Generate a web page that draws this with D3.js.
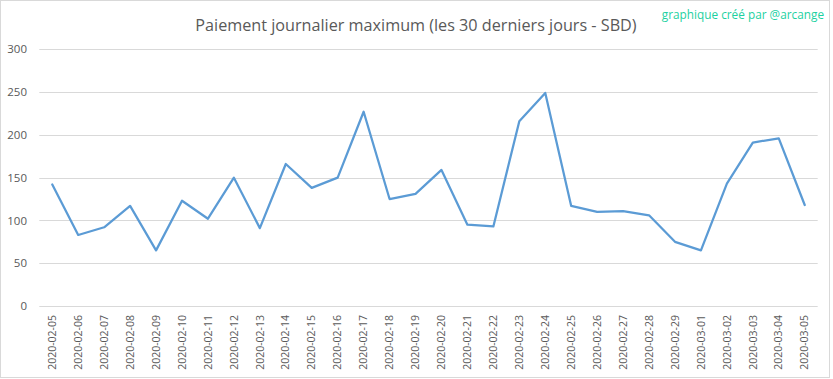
<!DOCTYPE html>
<html>
<head>
<meta charset="utf-8">
<script src="https://cdn.jsdelivr.net/npm/d3@7"></script>
<style>
html,body{margin:0;padding:0;background:#fff;}
svg{display:block;}
</style>
</head>
<body>
<svg id="chart" width="833" height="379"></svg>
<script>
const dates = ["2020-02-05","2020-02-06","2020-02-07","2020-02-08","2020-02-09","2020-02-10","2020-02-11","2020-02-12","2020-02-13","2020-02-14","2020-02-15","2020-02-16","2020-02-17","2020-02-18","2020-02-19","2020-02-20","2020-02-21","2020-02-22","2020-02-23","2020-02-24","2020-02-25","2020-02-26","2020-02-27","2020-02-28","2020-02-29","2020-03-01","2020-03-02","2020-03-03","2020-03-04","2020-03-05"];
const values = [142,83,92,117,65,123,102,150,91,166,138,150,227,125,131,159,95,93,216,249,117,110,111,106,75,65,143,191,196,118];
const yTicks = [0,50,100,150,200,250,300];
const titleText = "Paiement journalier maximum (les 30 derniers jours - SBD)";
const creditText = "graphique créé par @arcange";

(function(){
const svg = d3.select("#chart");
const mLeft = 39.3, mRight = 817.7, mTop = 49.3, mBottom = 306;

svg.append("rect").attr("x",0.5).attr("y",0.5).attr("width",829).attr("height",377)
  .attr("fill","#fff").attr("stroke","#D9D9D9").attr("stroke-width",1);

const x = d3.scaleBand().domain(dates).range([mLeft,mRight]);
const y = d3.scaleLinear().domain([0,300]).range([mBottom,mTop]);

const grid = svg.append("g");
grid.selectAll("line").data(yTicks).join("line")
  .attr("x1",mLeft).attr("x2",mRight)
  .attr("y1",d=>Math.round(y(d))+0.5).attr("y2",d=>Math.round(y(d))+0.5)
  .attr("stroke","#D9D9D9").attr("stroke-width",1);

const yAxis = d3.axisLeft(y).tickValues(yTicks).tickSize(0).tickPadding(0);
const gy = svg.append("g").attr("transform",`translate(27,0)`).call(yAxis);
gy.select(".domain").remove();
gy.selectAll("text").attr("font-family","'Open Sans', sans-serif").attr("font-size","11.5px").attr("fill","#595959");

const xAxis = d3.axisBottom(x).tickSize(0).tickPadding(0);
const gx = svg.append("g").attr("transform",`translate(0,${mBottom})`).call(xAxis);
gx.select(".domain").remove();
gx.selectAll("text")
  .attr("font-family","'Open Sans', sans-serif").attr("font-size","10.5px").attr("fill","#595959")
  .attr("text-anchor","end").attr("dy","0.35em")
  .attr("transform","translate(0,9) rotate(-90)").attr("x",0).attr("y",0);

const line = d3.line().x((d,i)=>x(dates[i])+x.bandwidth()/2).y(d=>y(d));
svg.append("path").datum(values).attr("d",line)
  .attr("fill","none").attr("stroke","#5B9BD5").attr("stroke-width",2.25)
  .attr("stroke-linejoin","round").attr("stroke-linecap","round");

svg.append("text").attr("x",416).attr("y",31).attr("text-anchor","middle")
  .attr("font-family","'Open Sans', sans-serif").attr("font-size","16.2px").attr("fill","#595959")
  .text(titleText);

svg.append("text").attr("x",824).attr("y",19).attr("text-anchor","end")
  .attr("font-family","'Open Sans', sans-serif").attr("font-size","11.8px").attr("fill","#1DD1A1")
  .text(creditText);
})();
</script>
</body>
</html>
